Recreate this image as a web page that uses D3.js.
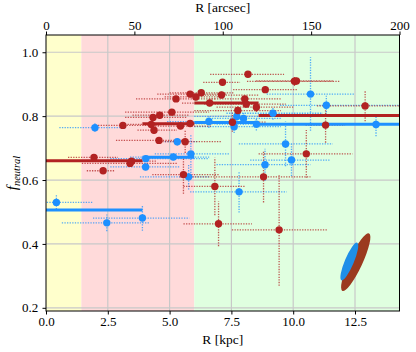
<!DOCTYPE html>
<html>
<head>
<meta charset="utf-8">
<script src="https://cdn.jsdelivr.net/npm/d3@7"></script>
<style>
  body { margin: 0; background: #fff; }
  svg text { font-family: "Liberation Serif", "Times New Roman", "DejaVu Serif", serif !important; }
</style>
</head>
<body>
<div id="chart"></div>
<script>
// region limits (kpc)
const regionEdges = [0, 1.43, 6.0, 14.3];
const regionColors = ["#ffffcc", "#ffdada", "#e0ffe0"];

// red sample: R, R low, R high, f, f error
const redR    = [1.94, 2.31, 3.40, 3.46, 3.11, 4.33, 4.60, 5.09, 4.26, 4.37, 4.57, 5.26, 5.44, 5.63, 5.83, 6.06, 6.28, 5.56, 6.62, 8.17, 7.14, 10.05, 10.13, 8.87, 7.10, 8.04, 8.10, 8.51, 7.76, 12.91, 11.31, 7.54, 5.83, 10.53, 8.80, 6.83, 6.98, 9.43];
const redRlo  = [0.89, 1.65, 1.45, 2.50, 2.00, 3.20, 3.50, 3.20, 3.30, 3.70, 2.83, 3.64, 4.20, 4.60, 4.50, 4.80, 5.00, 4.30, 5.50, 6.64, 6.36, 8.13, 8.50, 7.57, 5.90, 6.60, 6.40, 6.90, 6.00, 10.96, 10.50, 6.20, 4.80, 8.60, 5.40, 5.56, 5.56, 7.52];
const redRhi  = [2.91, 2.79, 5.30, 4.50, 4.60, 5.70, 5.80, 6.60, 5.30, 5.30, 5.70, 6.90, 6.70, 7.10, 7.30, 7.20, 7.60, 7.00, 7.80, 9.63, 7.85, 11.90, 11.60, 10.15, 8.60, 9.50, 9.70, 10.00, 9.50, 14.30, 12.10, 8.90, 6.90, 12.40, 10.70, 8.06, 8.33, 11.36];
const redF    = [0.671, 0.629, 0.652, 0.659, 0.771, 0.796, 0.803, 0.8125, 0.774, 0.756, 0.724, 0.854, 0.769, 0.720, 0.869, 0.860, 0.873, 0.617, 0.841, 0.931, 0.906, 0.909, 0.910, 0.883, 0.866, 0.854, 0.8375, 0.828, 0.8175, 0.832, 0.772, 0.781, 0.777, 0.682, 0.610, 0.580, 0.463, 0.444];
const redFerr = [0.01, 0.01, 0.01, 0.01, 0.01, 0.01, 0.01, 0.01, 0.01, 0.01, 0.01, 0.01, 0.01, 0.035, 0.01, 0.01, 0.01, 0.06, 0.01, 0.01, 0.01, 0.015, 0.01, 0.01, 0.01, 0.01, 0.01, 0.015, 0.015, 0.048, 0.055, 0.03, 0.01, 0.075, 0.08, 0.09, 0.07, 0.175];

// blue sample
const blueR    = [1.98, 4.04, 4.03, 5.15, 5.31, 5.86, 5.77, 0.42, 2.46, 3.90, 10.70, 11.34, 9.18, 7.72, 7.99, 6.59, 7.61, 8.51, 13.35, 9.69, 9.93, 8.86, 7.81];
const blueRlo  = [0.54, 2.60, 2.60, 3.40, 4.80, 4.40, 3.80, 0.03, 0.64, 1.90, 8.93, 9.47, 7.30, 6.00, 6.50, 4.90, 6.00, 6.90, 11.60, 7.80, 8.26, 6.90, 5.83];
const blueRhi  = [3.27, 6.60, 5.40, 6.60, 6.10, 7.45, 6.60, 1.91, 4.20, 5.80, 12.50, 14.30, 11.20, 9.00, 9.50, 8.30, 9.50, 10.70, 14.30, 11.60, 11.50, 10.70, 9.74];
const blueF    = [0.764, 0.667, 0.641, 0.672, 0.720, 0.682, 0.610, 0.530, 0.466, 0.481, 0.869, 0.834, 0.809, 0.799, 0.793, 0.783, 0.767, 0.775, 0.774, 0.713, 0.6625, 0.648, 0.563];
const blueFerr = [0.014, 0.01, 0.01, 0.01, 0.012, 0.06, 0.04, 0.022, 0.026, 0.04, 0.115, 0.03, 0.02, 0.03, 0.02, 0.02, 0.02, 0.02, 0.037, 0.07, 0.05, 0.05, 0.065];

// binned medians
const binEdges = [0, 3.9, 6.0, 8.6, 14.3];
const redMedian = [0.660, 0.776, 0.841, 0.802];
const blueMedian = [0.506, 0.671, 0.780, 0.775];

// error ellipses (brown under, blue over): centre, major axis tip, axis ratio
const ellipseCx  = [12.53, 12.27];
const ellipseCy  = [0.343, 0.345];
const ellipseTx  = [13.07, 12.59];
const ellipseTy  = [0.433, 0.404];
const ellipseRatio = [0.21, 0.22];
const ellipseColors = ["#9b3a1f", "#1f8fe8"];

const xTicks = [0, 2.5, 5.0, 7.5, 10.0, 12.5];
const yTicks = [0.2, 0.4, 0.6, 0.8, 1.0];
const arcTicks = [0, 50, 100, 150, 200];

const svgWidth = 416, svgHeight = 352;
const margin = { top: 35, right: 16.5, bottom: 41, left: 46 };
const width = svgWidth - margin.left - margin.right;
const height = svgHeight - margin.top - margin.bottom;

const RED = "#b22222", BLUE = "#1e90ff";
const FONT = "'Liberation Serif', 'Times New Roman', 'DejaVu Serif', serif";

const svg = d3.select("#chart").append("svg")
  .attr("width", svgWidth).attr("height", svgHeight)
  .attr("font-family", FONT);

const g = svg.append("g").attr("transform", `translate(${margin.left},${margin.top})`);

const x = d3.scaleLinear().domain([0, 14.3]).range([0, width]);
const xArc = d3.scaleLinear().domain([0, 200]).range([0, width]);
const y = d3.scaleLinear().domain([0.19, 1.054]).range([height, 0]);

// backgrounds
g.selectAll("rect.region").data(regionColors).enter().append("rect")
  .attr("x", (d, i) => x(regionEdges[i]))
  .attr("width", (d, i) => x(regionEdges[i + 1]) - x(regionEdges[i]))
  .attr("y", 0).attr("height", height)
  .attr("fill", d => d);

// grid
g.append("g").selectAll("line").data(xTicks.slice(1)).enter().append("line")
  .attr("x1", d => x(d)).attr("x2", d => x(d))
  .attr("y1", 0).attr("y2", height)
  .attr("stroke", "#c8c8c8").attr("stroke-width", 1.2);
g.append("g").selectAll("line").data(yTicks).enter().append("line")
  .attr("x1", 0).attr("x2", width)
  .attr("y1", d => y(d)).attr("y2", d => y(d))
  .attr("stroke", "#c8c8c8").attr("stroke-width", 1.2);

function drawSample(R, Rlo, Rhi, F, Ferr, color) {
  const data = R.map((r, i) => ({ r, lo: Rlo[i], hi: Rhi[i], f: F[i], e: Ferr[i] }));
  const eb = g.append("g")
    .attr("stroke", color).attr("stroke-width", 1.3)
    .attr("stroke-dasharray", "1.3,1.3").attr("opacity", 0.75);
  eb.selectAll("line.h").data(data).enter().append("line")
    .attr("x1", d => x(d.lo)).attr("x2", d => x(d.hi))
    .attr("y1", d => y(d.f)).attr("y2", d => y(d.f));
  eb.selectAll("line.v").data(data).enter().append("line")
    .attr("x1", d => x(d.r)).attr("x2", d => x(d.r))
    .attr("y1", d => y(d.f - d.e)).attr("y2", d => y(d.f + d.e));
  return data;
}

function drawMedian(vals, color) {
  g.append("g").selectAll("line").data(vals).enter().append("line")
    .attr("x1", (d, i) => x(binEdges[i])).attr("x2", (d, i) => x(binEdges[i + 1]))
    .attr("y1", d => y(d)).attr("y2", d => y(d))
    .attr("stroke", color).attr("stroke-width", 3);
}

function drawPoints(data, color) {
  g.append("g").selectAll("circle").data(data).enter().append("circle")
    .attr("cx", d => x(d.r)).attr("cy", d => y(d.f))
    .attr("r", 3.7).attr("fill", color);
}

const blueData = drawSample(blueR, blueRlo, blueRhi, blueF, blueFerr, BLUE);
const redData = drawSample(redR, redRlo, redRhi, redF, redFerr, RED);
drawMedian(blueMedian, BLUE);
drawMedian(redMedian, RED);
drawPoints(blueData, BLUE);
drawPoints(redData, RED);

// ellipses
ellipseColors.forEach((c, i) => {
  const cx = x(ellipseCx[i]), cy = y(ellipseCy[i]);
  const tx = x(ellipseTx[i]), ty = y(ellipseTy[i]);
  const a = Math.hypot(tx - cx, ty - cy);
  const ang = Math.atan2(ty - cy, tx - cx) * 180 / Math.PI;
  g.append("ellipse")
    .attr("transform", `translate(${cx},${cy}) rotate(${ang})`)
    .attr("rx", a).attr("ry", a * ellipseRatio[i])
    .attr("fill", c);
});

// axes
const bottomAxis = d3.axisBottom(x).tickValues(xTicks).tickFormat(d3.format(".1f")).tickSizeOuter(0).tickSize(3.5);
const leftAxis = d3.axisLeft(y).tickValues(yTicks).tickFormat(d3.format(".1f")).tickSizeOuter(0).tickSize(3.5);
const topAxis = d3.axisTop(xArc).tickValues(arcTicks).tickFormat(d3.format("d")).tickSizeOuter(0).tickSize(3.5);

function styleAxis(sel) {
  sel.attr("font-family", FONT).attr("font-size", 13);
  sel.select(".domain").remove();
  sel.selectAll("text").attr("fill", "#000");
  sel.selectAll("line").attr("stroke", "#000");
}

g.append("g").attr("transform", `translate(0,${height})`).call(bottomAxis).call(styleAxis)
  .selectAll("text").attr("dy", "0.62em");
g.append("g").call(leftAxis).call(styleAxis)
  .selectAll("text").attr("dx", "-0.1em");
g.append("g").call(topAxis).call(styleAxis)
  .selectAll("text").attr("dy", "0.1em");

// frame
g.append("rect").attr("width", width).attr("height", height)
  .attr("fill", "none").attr("stroke", "#000").attr("stroke-width", 1);

// labels
svg.append("text")
  .attr("x", margin.left + width / 2).attr("y", 12)
  .attr("text-anchor", "middle").attr("font-size", 13.5)
  .text("R [arcsec]");
svg.append("text")
  .attr("x", margin.left + width / 2).attr("y", 344)
  .attr("text-anchor", "middle").attr("font-size", 13.5)
  .text("R [kpc]");

const yl = svg.append("text")
  .attr("transform", `translate(17, ${margin.top + height / 2}) rotate(-90)`)
  .attr("text-anchor", "middle").attr("font-style", "italic");
yl.append("tspan").attr("font-size", 15).text("f");
yl.append("tspan").attr("font-size", 10.5).attr("dy", 3).text("neutral");
</script>
</body>
</html>
